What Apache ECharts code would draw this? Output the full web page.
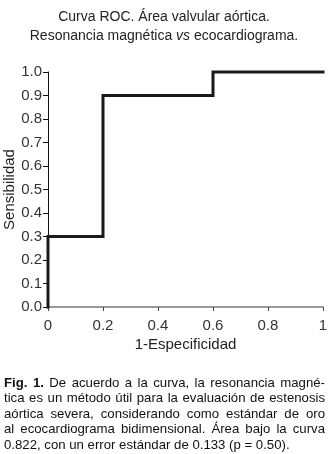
<!DOCTYPE html>
<html>
<head>
<meta charset="utf-8">
<script src="https://cdn.jsdelivr.net/npm/echarts@6/dist/echarts.min.js"></script>
<style>
html,body{margin:0;padding:0;background:#fff;}
#chart{width:328px;height:454px;}
</style>
</head>
<body>
<div id="chart"></div>
<script>
// ---- data ----
const fpr = [0, 0, 0.2, 0.6, 1];        // 1-Especificidad
const tpr = [0, 0.3, 0.9, 1.0, 1.0];    // Sensibilidad
const xTicks = [0, 0.2, 0.4, 0.6, 0.8, 1];
const yTicks = [0, 0.1, 0.2, 0.3, 0.4, 0.5, 0.6, 0.7, 0.8, 0.9, 1.0];
const titleLine1 = 'Curva ROC. Área valvular aórtica.';
const titleLine2a = 'Resonancia magnética ';
const titleLine2b = 'vs';
const titleLine2c = ' ecocardiograma.';
const xName = '1-Especificidad';
const yName = 'Sensibilidad';
const captionBold = 'Fig. 1.';
const captionLines = [
  'Fig. 1. De acuerdo a la curva, la resonancia magné-',
  'tica es un método útil para la evaluación de estenosis',
  'aórtica severa, considerando como estándar de oro',
  'al ecocardiograma bidimensional. Área bajo la curva',
  '0.822, con un error estándar de 0.133 (p = 0.50).'
];

const FONT = "'Liberation Sans', Arial, sans-serif";
const chart = echarts.init(document.getElementById('chart'), null, {renderer: 'canvas'});

// justified caption built from the caption text
const cv = document.createElement('canvas').getContext('2d');
const CAP_SIZE = 13.2;
function measure(t, bold) { cv.font = (bold ? 'bold ' : '') + CAP_SIZE + 'px ' + FONT; return cv.measureText(t).width; }
const capLeft = 4, capRight = 325, capTop = 383, capLH = 15.5;
const boldWords = captionBold.split(' ');
const captionGraphics = [];
captionLines.forEach(function (line, li) {
  const words = line.split(' ');
  const bolds = words.map(function (w, wi) { return li === 0 && wi < boldWords.length; });
  const widths = words.map(function (w, wi) { return measure(w, bolds[wi]); });
  const total = widths.reduce(function (a, b) { return a + b; }, 0);
  const last = li === captionLines.length - 1;
  const gap = last ? measure(' ', false) : (capRight - capLeft - total) / (words.length - 1);
  let x = capLeft;
  words.forEach(function (w, wi) {
    captionGraphics.push({
      type: 'text', x: x, y: capTop + li * capLH,
      style: {text: w, font: (bolds[wi] ? 'bold ' : '') + CAP_SIZE + 'px ' + FONT, fill: '#111',
              textAlign: 'left', textVerticalAlign: 'middle'}
    });
    x += widths[wi] + gap;
  });
});

const option = {
  animation: false,
  backgroundColor: '#fff',
  title: {
    left: 'center', top: 3,
    text: titleLine1 + '\n{n|' + titleLine2a + '}{i|' + titleLine2b + '}{n|' + titleLine2c + '}',
    textStyle: {
      fontFamily: FONT, fontSize: 14, fontWeight: 'normal', color: '#222', lineHeight: 19,
      rich: {
        n: {fontFamily: FONT, fontSize: 14, color: '#222', lineHeight: 19},
        i: {fontFamily: FONT, fontSize: 14, color: '#222', fontStyle: 'italic', lineHeight: 19}
      }
    }
  },
  grid: {left: 48, right: 5, top: 72, bottom: 147, containLabel: false, outerBoundsMode: 'none'},
  xAxis: {
    type: 'value', min: 0, max: 1, interval: 0.2,
    name: xName, nameLocation: 'middle', nameGap: 30, nameMoveOverlap: false,
    nameTextStyle: {fontFamily: FONT, fontSize: 15, color: '#222'},
    axisLine: {show: true, onZero: false, lineStyle: {color: '#999', width: 2}},
    axisTick: {show: true, length: 4, lineStyle: {color: '#444'}},
    axisLabel: {fontFamily: FONT, fontSize: 15, color: '#333', margin: 11,
      formatter: function (v) { return (v === 0 || v === 1) ? String(v) : v.toFixed(1); }},
    splitLine: {show: false}
  },
  yAxis: {
    type: 'value', min: 0, max: 1, interval: 0.1,
    name: yName, nameLocation: 'middle', nameGap: 31, nameMoveOverlap: false,
    nameTextStyle: {fontFamily: FONT, fontSize: 15, color: '#222'},
    axisLine: {show: true, onZero: false, lineStyle: {color: '#111', width: 1}},
    axisTick: {show: true, length: 5, lineStyle: {color: '#111'}},
    axisLabel: {fontFamily: FONT, fontSize: 15, color: '#333', margin: 6,
      formatter: function (v) { return v.toFixed(1); }},
    splitLine: {show: false}
  },
  series: [{
    type: 'line', step: 'end', clip: false, showSymbol: false, symbol: 'none',
    data: fpr.map(function (x, i) { return [x, tpr[i]]; }),
    lineStyle: {color: '#1a1a1a', width: 3, cap: 'square', join: 'miter'}
  }],
  graphic: captionGraphics
};
chart.setOption(option);
</script>
</body>
</html>
